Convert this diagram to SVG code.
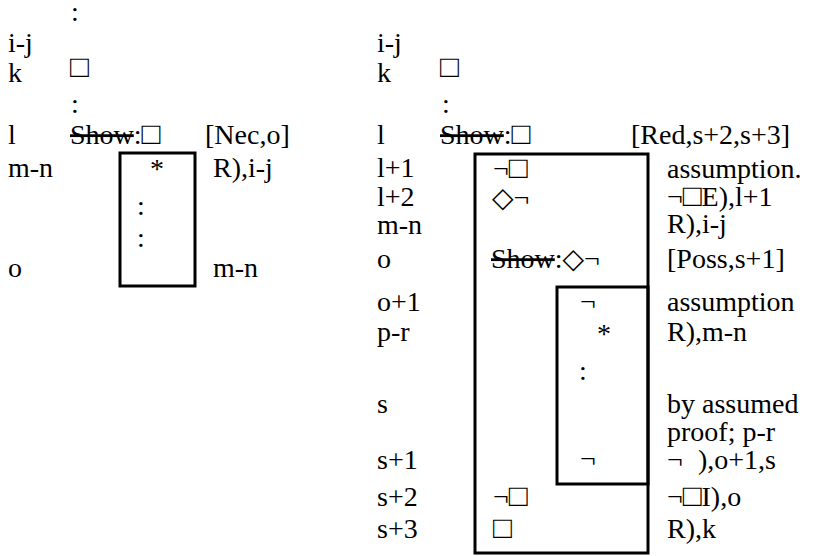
<svg xmlns="http://www.w3.org/2000/svg" width="813" height="556" viewBox="0 0 813 556">
<style>
text{font-family:"Liberation Serif","Times New Roman","DejaVu Serif",serif;font-size:28px;fill:#000;white-space:pre}
.sq{font-size:31px}
.strike{text-decoration:line-through}
.box{fill:none;stroke:#000;stroke-width:3}
</style>
<rect width="813" height="556" fill="#fff"/>
<g id="left-proof">
<text x="71" y="21">:</text>
<text x="8" y="52">i-j</text>
<text x="8" y="82">k</text>
<text x="70" y="77" class="sq">□</text>
<text x="71" y="113">:</text>
<text x="8" y="144">l</text>
<text x="70" y="144"><tspan class="strike">Show</tspan>:<tspan class="sq">□</tspan></text>
<text x="205" y="144">[Nec,o]</text>
<text x="8" y="177">m-n</text>
<g id="left-box">
<rect class="box" x="120" y="153" width="75" height="133"/>
<text x="150" y="178">*</text>
<text x="137" y="215">:</text>
<text x="137" y="247">:</text>
</g>
<text x="213" y="177">R),i-j</text>
<text x="8" y="277">o</text>
<text x="213" y="277">m-n</text>
</g>
<g id="right-proof">
<text x="377" y="52">i-j</text>
<text x="377" y="82">k</text>
<text x="440" y="77" class="sq">□</text>
<text x="442" y="113">:</text>
<text x="377" y="144">l</text>
<text x="440" y="144"><tspan class="strike">Show</tspan>:<tspan class="sq">□</tspan></text>
<text x="631" y="144">[Red,s+2,s+3]</text>
<g id="outer-box">
<rect class="box" x="475" y="154" width="173" height="399"/>
<text x="493" y="178">¬<tspan class="sq">□</tspan></text>
<text x="492" y="207">◇¬</text>
<text x="491" y="268"><tspan class="strike">Show</tspan>:◇¬</text>
<text x="493" y="506">¬<tspan class="sq">□</tspan></text>
<text x="493" y="538" class="sq">□</text>
</g>
<g id="inner-box">
<rect class="box" x="557" y="287" width="91" height="197"/>
<text x="580" y="311">¬</text>
<text x="597" y="343">*</text>
<text x="579" y="380">:</text>
<text x="580" y="468">¬</text>
</g>
<text x="377" y="177">l+1</text>
<text x="667" y="178">assumption.</text>
<text x="377" y="206">l+2</text>
<text x="667" y="206">¬<tspan class="sq">□</tspan>E),l+1</text>
<text x="377" y="234">m-n</text>
<text x="667" y="233">R),i-j</text>
<text x="377" y="268">o</text>
<text x="667" y="268">[Poss,s+1]</text>
<text x="377" y="311">o+1</text>
<text x="667" y="311">assumption</text>
<text x="377" y="341">p-r</text>
<text x="667" y="341">R),m-n</text>
<text x="377" y="413">s</text>
<text x="667" y="413">by assumed</text>
<text x="667" y="441">proof; p-r</text>
<text x="377" y="469">s+1</text>
<text x="667" y="469">¬</text>
<text x="698" y="469">),o+1,s</text>
<text x="377" y="506">s+2</text>
<text x="667" y="506">¬<tspan class="sq">□</tspan>I),o</text>
<text x="377" y="538">s+3</text>
<text x="667" y="538">R),k</text>
</g>
</svg>
